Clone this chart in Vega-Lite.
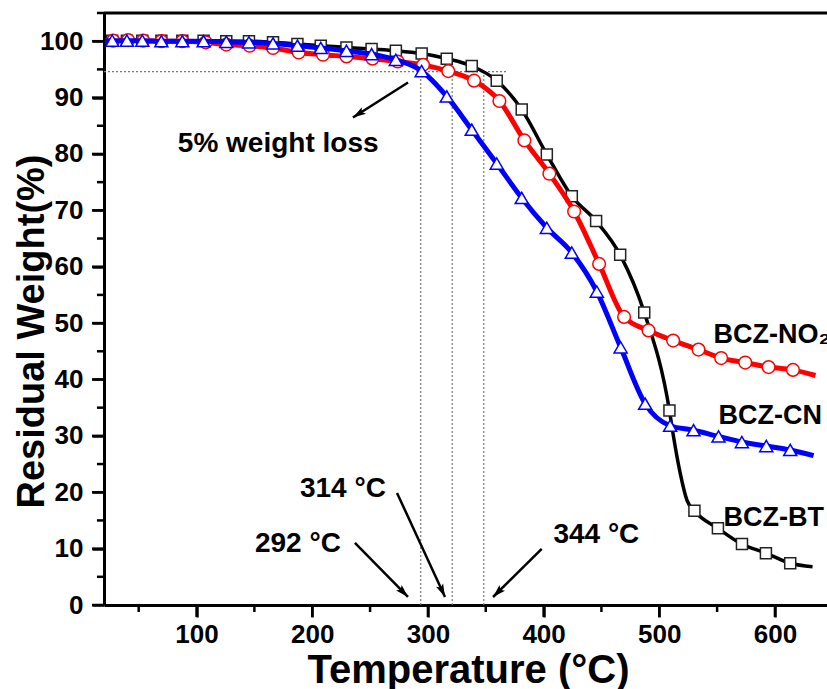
{
  "$schema": "https://vega.github.io/schema/vega-lite/v6.json",
  "width": 723,
  "height": 592,
  "autosize": {"type": "none"},
  "padding": {"left": 104, "top": 13, "right": 0, "bottom": 84},
  "background": "white",
  "config": {"view": {"stroke": null}, "font": "Liberation Sans"},
  "resolve": {"axis": {"x": "independent", "y": "independent"}},
  "datasets": {
    "curves": [
      {"s":"BT","t":21,"w":100.1,"m":0},{"s":"BT","t":27.1,"w":100.1,"m":1},{"s":"BT","t":39.8,"w":100.1,"m":1},{"s":"BT","t":53.1,"w":100.1,"m":1},{"s":"BT","t":69.6,"w":100.1,"m":1},{"s":"BT","t":87.7,"w":100.1,"m":1},{"s":"BT","t":106.1,"w":100.1,"m":1},{"s":"BT","t":125.7,"w":100.0,"m":1},{"s":"BT","t":145.3,"w":100.0,"m":1},{"s":"BT","t":166.1,"w":99.8,"m":1},{"s":"BT","t":187.2,"w":99.5,"m":1},{"s":"BT","t":207.4,"w":99.2,"m":1},{"s":"BT","t":229.6,"w":98.9,"m":1},{"s":"BT","t":251.3,"w":98.6,"m":1},{"s":"BT","t":272.3,"w":98.3,"m":1},{"s":"BT","t":294.6,"w":97.8,"m":1},{"s":"BT","t":316.3,"w":96.9,"m":1},{"s":"BT","t":337.9,"w":95.6,"m":1},{"s":"BT","t":359.5,"w":93.0,"m":1},{"s":"BT","t":381.1,"w":87.9,"m":1},{"s":"BT","t":402.8,"w":79.9,"m":1},{"s":"BT","t":424.4,"w":72.5,"m":1},{"s":"BT","t":445.4,"w":68.1,"m":1},{"s":"BT","t":466.2,"w":62.1,"m":1},{"s":"BT","t":487.0,"w":51.9,"m":1},{"s":"BT","t":508.8,"w":34.5,"m":1},{"s":"BT","t":512.3,"w":29.9,"m":0},{"s":"BT","t":518.1,"w":23.4,"m":0},{"s":"BT","t":523.9,"w":18.6,"m":0},{"s":"BT","t":530.4,"w":16.7,"m":1},{"s":"BT","t":550.7,"w":13.6,"m":1},{"s":"BT","t":571.5,"w":10.8,"m":1},{"s":"BT","t":592.2,"w":9.2,"m":1},{"s":"BT","t":613.2,"w":7.4,"m":1},{"s":"BT","t":632.5,"w":6.8,"m":0},
      {"s":"NO2","t":21,"w":100.1,"m":0},{"s":"NO2","t":27.9,"w":100.1,"m":1},{"s":"NO2","t":40.8,"w":100.2,"m":1},{"s":"NO2","t":53.8,"w":100.1,"m":1},{"s":"NO2","t":69.6,"w":100.0,"m":1},{"s":"NO2","t":87.7,"w":100.0,"m":1},{"s":"NO2","t":107.9,"w":99.8,"m":1},{"s":"NO2","t":125.7,"w":99.4,"m":1},{"s":"NO2","t":145.9,"w":99.2,"m":1},{"s":"NO2","t":166.1,"w":98.8,"m":1},{"s":"NO2","t":188.3,"w":98.0,"m":1},{"s":"NO2","t":209.3,"w":97.6,"m":1},{"s":"NO2","t":229.6,"w":97.3,"m":1},{"s":"NO2","t":252.1,"w":96.9,"m":1},{"s":"NO2","t":273.9,"w":96.4,"m":1},{"s":"NO2","t":295.8,"w":95.8,"m":1},{"s":"NO2","t":317.6,"w":94.7,"m":1},{"s":"NO2","t":339.9,"w":93.0,"m":1},{"s":"NO2","t":361.8,"w":89.4,"m":1},{"s":"NO2","t":383.4,"w":82.4,"m":1},{"s":"NO2","t":405.0,"w":76.5,"m":1},{"s":"NO2","t":426.4,"w":69.8,"m":1},{"s":"NO2","t":448.0,"w":60.5,"m":1},{"s":"NO2","t":469.6,"w":51.1,"m":1},{"s":"NO2","t":490.7,"w":48.7,"m":1},{"s":"NO2","t":512.0,"w":46.9,"m":1},{"s":"NO2","t":533.9,"w":45.3,"m":1},{"s":"NO2","t":553.5,"w":43.8,"m":1},{"s":"NO2","t":574.3,"w":43.0,"m":1},{"s":"NO2","t":594.5,"w":42.2,"m":1},{"s":"NO2","t":615.6,"w":41.7,"m":1},{"s":"NO2","t":635,"w":40.7,"m":0},
      {"s":"CN","t":21,"w":100.1,"m":0},{"s":"CN","t":27.1,"w":100.1,"m":1},{"s":"CN","t":39.8,"w":100.1,"m":1},{"s":"CN","t":53.1,"w":100.1,"m":1},{"s":"CN","t":69.6,"w":100.0,"m":1},{"s":"CN","t":87.7,"w":100.0,"m":1},{"s":"CN","t":106.1,"w":100.0,"m":1},{"s":"CN","t":125.7,"w":99.9,"m":1},{"s":"CN","t":145.3,"w":99.8,"m":1},{"s":"CN","t":166.1,"w":99.6,"m":1},{"s":"CN","t":187.2,"w":99.2,"m":1},{"s":"CN","t":207.4,"w":98.8,"m":1},{"s":"CN","t":229.6,"w":98.3,"m":1},{"s":"CN","t":251.3,"w":97.7,"m":1},{"s":"CN","t":272.3,"w":96.7,"m":1},{"s":"CN","t":294.6,"w":94.7,"m":1},{"s":"CN","t":316.3,"w":90.2,"m":1},{"s":"CN","t":337.9,"w":84.3,"m":1},{"s":"CN","t":359.5,"w":78.3,"m":1},{"s":"CN","t":381.1,"w":72.2,"m":1},{"s":"CN","t":402.8,"w":66.9,"m":1},{"s":"CN","t":424.4,"w":62.5,"m":1},{"s":"CN","t":446.0,"w":55.6,"m":1},{"s":"CN","t":466.6,"w":45.7,"m":1},{"s":"CN","t":487.8,"w":35.7,"m":1},{"s":"CN","t":509.4,"w":31.8,"m":1},{"s":"CN","t":529.6,"w":31.0,"m":1},{"s":"CN","t":551.2,"w":29.9,"m":1},{"s":"CN","t":571.4,"w":28.9,"m":1},{"s":"CN","t":592.5,"w":28.2,"m":1},{"s":"CN","t":613.2,"w":27.5,"m":1},{"s":"CN","t":633.4,"w":26.5,"m":0}
    ]
  },
  "encoding": {
    "x": {"field": "t", "type": "quantitative", "scale": {"domain": [20, 645], "nice": false, "zero": false}, "axis": null},
    "y": {"field": "w", "type": "quantitative", "scale": {"domain": [0, 105], "nice": false, "zero": true}, "axis": null}
  },
  "layer": [
    {
      "data": {"values": [{"t": 20, "t2": 368, "w": 94.6}]},
      "mark": {"type": "rule", "color": "#777777", "strokeWidth": 1.2, "strokeDash": [2, 2]},
      "encoding": {
        "x": {
          "field": "t", "type": "quantitative",
          "scale": {"domain": [20, 645], "nice": false, "zero": false},
          "axis": {
            "orient": "bottom",
            "values": [100, 200, 300, 400, 500, 600],
            "grid": false, "ticks": true,
            "domainColor": "black", "domainWidth": 3,
            "tickColor": "black", "tickWidth": 2.5, "tickSize": 12,
            "labelFont": "Liberation Sans", "labelFontSize": 26, "labelFontWeight": "bold", "labelColor": "black",
            "labelPadding": 4, "labelOverlap": false, "labelFlush": false,
            "title": "Temperature (°C)", "titleFont": "Liberation Sans", "titleFontSize": 40, "titleFontWeight": "bold", "titleColor": "black",
            "titleX": 364, "titleY": 77, "titleBaseline": "alphabetic", "titleAlign": "center"
          }
        },
        "y": {
          "field": "w", "type": "quantitative",
          "scale": {"domain": [0, 105], "nice": false, "zero": true},
          "axis": {
            "orient": "left",
            "values": [0, 10, 20, 30, 40, 50, 60, 70, 80, 90, 100],
            "grid": false, "ticks": true,
            "domainColor": "black", "domainWidth": 3,
            "tickColor": "black", "tickWidth": 2.5, "tickSize": 12,
            "labelFont": "Liberation Sans", "labelFontSize": 26, "labelFontWeight": "bold", "labelColor": "black",
            "labelPadding": 9, "labelOverlap": false, "labelFlush": false,
            "title": "Residual Weight(%)", "titleFont": "Liberation Sans", "titleFontSize": 38, "titleFontWeight": "bold", "titleColor": "black",
            "titleAngle": 270, "titleX": -61, "titleY": 318, "titleBaseline": "alphabetic", "titleAlign": "center"
          }
        },
        "x2": {"field": "t2"}
      }
    },
    {
      "data": {"values": [{"t": 293.8, "w": 0, "w2": 94.6}, {"t": 321, "w": 0, "w2": 94.6}, {"t": 348.3, "w": 0, "w2": 94.6}]},
      "mark": {"type": "rule", "color": "#777777", "strokeWidth": 1.2, "strokeDash": [2, 2]},
      "encoding": {"y2": {"field": "w2"}}
    },
    {
      "data": {"values": [{"t": 20, "t2": 645, "w": 105}]},
      "mark": {"type": "rule", "color": "black", "strokeWidth": 3},
      "encoding": {"x2": {"field": "t2"}}
    },
    {
      "data": {"values": [{"t": 100, "w": 0, "w2": -2.13}, {"t": 200, "w": 0, "w2": -2.13}, {"t": 300, "w": 0, "w2": -2.13}, {"t": 400, "w": 0, "w2": -2.13}, {"t": 500, "w": 0, "w2": -2.13}, {"t": 600, "w": 0, "w2": -2.13}, {"t": 50, "w": 0, "w2": -1.24}, {"t": 150, "w": 0, "w2": -1.24}, {"t": 250, "w": 0, "w2": -1.24}, {"t": 350, "w": 0, "w2": -1.24}, {"t": 450, "w": 0, "w2": -1.24}, {"t": 550, "w": 0, "w2": -1.24}]},
      "mark": {"type": "rule", "color": "black", "strokeWidth": 2.5, "clip": false},
      "encoding": {"y2": {"field": "w2"}}
    },
    {
      "data": {"values": [{"w": 0, "t": 20, "t2": 9.6}, {"w": 10, "t": 20, "t2": 9.6}, {"w": 20, "t": 20, "t2": 9.6}, {"w": 30, "t": 20, "t2": 9.6}, {"w": 40, "t": 20, "t2": 9.6}, {"w": 50, "t": 20, "t2": 9.6}, {"w": 60, "t": 20, "t2": 9.6}, {"w": 70, "t": 20, "t2": 9.6}, {"w": 80, "t": 20, "t2": 9.6}, {"w": 90, "t": 20, "t2": 9.6}, {"w": 100, "t": 20, "t2": 9.6}, {"w": 5, "t": 20, "t2": 13.9}, {"w": 15, "t": 20, "t2": 13.9}, {"w": 25, "t": 20, "t2": 13.9}, {"w": 35, "t": 20, "t2": 13.9}, {"w": 45, "t": 20, "t2": 13.9}, {"w": 55, "t": 20, "t2": 13.9}, {"w": 65, "t": 20, "t2": 13.9}, {"w": 75, "t": 20, "t2": 13.9}, {"w": 85, "t": 20, "t2": 13.9}, {"w": 95, "t": 20, "t2": 13.9}, {"w": 105, "t": 20, "t2": 13.9}]},
      "mark": {"type": "rule", "color": "black", "strokeWidth": 2.5, "clip": false},
      "encoding": {"x2": {"field": "t2"}}
    },
    {
      "data": {"name": "curves"},
      "transform": [{"filter": "datum.s === 'BT'"}],
      "mark": {"type": "line", "color": "black", "strokeWidth": 3.5, "interpolate": "monotone"}
    },
    {
      "data": {"name": "curves"},
      "transform": [{"filter": "datum.s === 'BT' && datum.m === 1"}],
      "mark": {"type": "point", "shape": "square", "filled": true, "fill": "white", "stroke": "#222222", "strokeWidth": 1.5, "size": 121, "opacity": 1}
    },
    {
      "data": {"name": "curves"},
      "transform": [{"filter": "datum.s === 'NO2'"}],
      "mark": {"type": "line", "color": "#ff0000", "strokeWidth": 5, "interpolate": "monotone"}
    },
    {
      "data": {"name": "curves"},
      "transform": [{"filter": "datum.s === 'NO2' && datum.m === 1"}],
      "mark": {"type": "point", "shape": "circle", "filled": true, "fill": "white", "stroke": "#ff0000", "strokeWidth": 1.5, "size": 160, "opacity": 1}
    },
    {
      "data": {"name": "curves"},
      "transform": [{"filter": "datum.s === 'CN'"}],
      "mark": {"type": "line", "color": "#0000ff", "strokeWidth": 5, "interpolate": "monotone"}
    },
    {
      "data": {"name": "curves"},
      "transform": [{"filter": "datum.s === 'CN' && datum.m === 1"}],
      "mark": {"type": "point", "shape": "triangle-up", "filled": true, "fill": "white", "stroke": "#0000ff", "strokeWidth": 1.5, "size": 170, "opacity": 1}
    },
    {
      "data": {"values": [
        {"t": 282.8, "w": 92.67, "t2": 235.2, "w2": 86.46},
        {"t": 236.9, "w": 11.0, "t2": 282.8, "w2": 1.42},
        {"t": 273.3, "w": 19.88, "t2": 314.8, "w2": 1.42},
        {"t": 398.4, "w": 9.94, "t2": 356.3, "w2": 1.42}
      ]},
      "mark": {"type": "rule", "color": "black", "strokeWidth": 2.5},
      "encoding": {"x2": {"field": "t2"}, "y2": {"field": "w2"}}
    },
    {
      "data": {"values": [{"t": 235.2, "w": 86.46}]},
      "mark": {"type": "point", "shape": "M0,0L0.6,2L0,1.6L-0.6,2Z", "filled": true, "color": "black", "size": 169, "angle": 237.5, "opacity": 1}
    },
    {
      "data": {"values": [{"t": 282.8, "w": 1.42}]},
      "mark": {"type": "point", "shape": "M0,0L0.6,2L0,1.6L-0.6,2Z", "filled": true, "color": "black", "size": 169, "angle": 135.5, "opacity": 1}
    },
    {
      "data": {"values": [{"t": 314.8, "w": 1.42}]},
      "mark": {"type": "point", "shape": "M0,0L0.6,2L0,1.6L-0.6,2Z", "filled": true, "color": "black", "size": 169, "angle": 155.2, "opacity": 1}
    },
    {
      "data": {"values": [{"t": 356.3, "w": 1.42}]},
      "mark": {"type": "point", "shape": "M0,0L0.6,2L0,1.6L-0.6,2Z", "filled": true, "color": "black", "size": 169, "angle": 225.4, "opacity": 1}
    },
    {
      "data": {"values": [
        {"t": 83.8, "w": 80.3, "label": "5% weight loss"},
        {"t": 150.5, "w": 9.45, "label": "292 °C"},
        {"t": 189.4, "w": 19.2, "label": "314 °C"},
        {"t": 408.5, "w": 10.95, "label": "344 °C"}
      ]},
      "mark": {"type": "text", "align": "left", "baseline": "alphabetic", "font": "Liberation Sans", "fontSize": 28, "fontWeight": "bold", "color": "black"},
      "encoding": {"text": {"field": "label"}}
    },
    {
      "data": {"values": [
        {"t": 546.9, "w": 46.5, "label": "BCZ-NO₂"},
        {"t": 551.2, "w": 32.1, "label": "BCZ-CN"},
        {"t": 555.5, "w": 14.1, "label": "BCZ-BT"}
      ]},
      "mark": {"type": "text", "align": "left", "baseline": "alphabetic", "font": "Liberation Sans", "fontSize": 27, "fontWeight": "bold", "color": "black"},
      "encoding": {"text": {"field": "label"}}
    }
  ]
}
